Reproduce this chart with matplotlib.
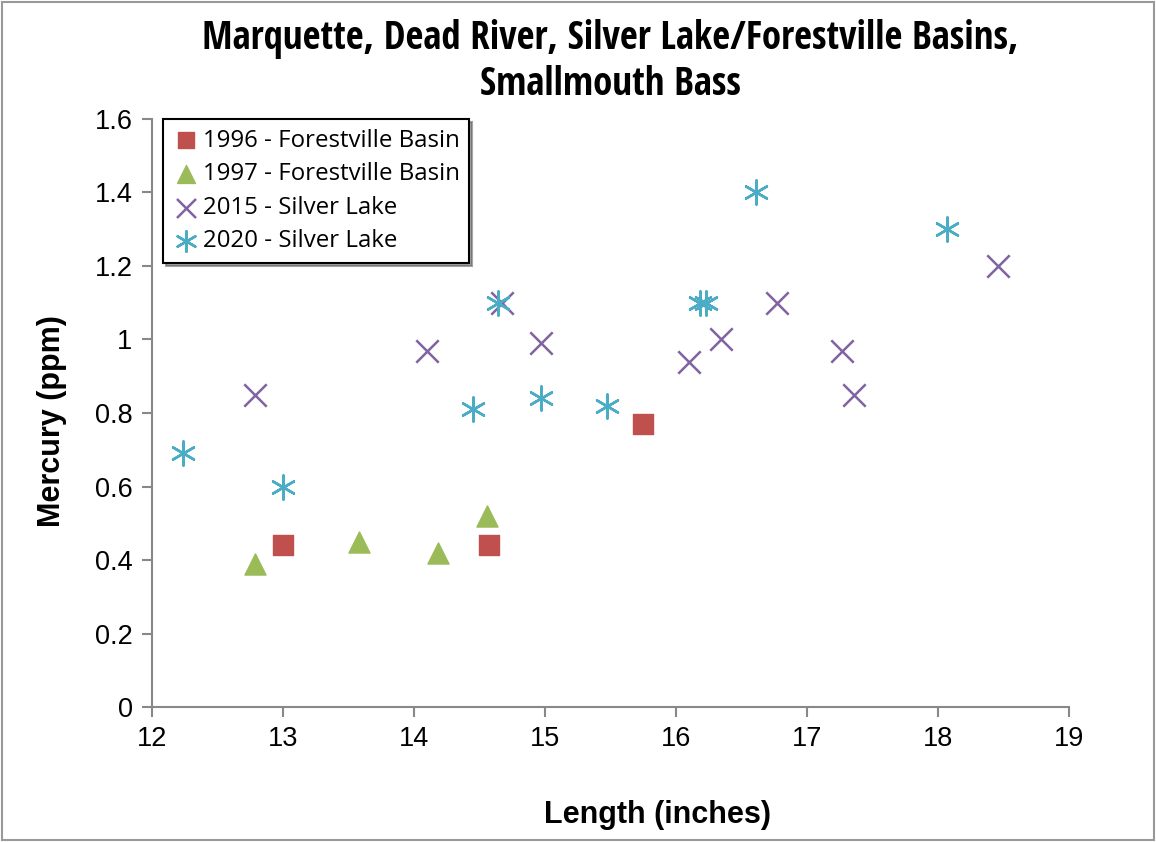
import matplotlib.pyplot as plt
from matplotlib.patches import Rectangle

# smallmouth bass mercury vs length
len_1996 = [13.0, 14.57, 15.75]
hg_1996 = [0.44, 0.44, 0.77]

len_1997 = [12.79, 13.58, 14.18, 14.56]
hg_1997 = [0.39, 0.45, 0.42, 0.52]

len_2015 = [12.79, 14.10, 14.67, 14.97, 16.10, 16.34, 16.77, 17.27, 17.36, 18.46]
hg_2015 = [0.85, 0.97, 1.10, 0.99, 0.94, 1.00, 1.10, 0.97, 0.85, 1.20]

len_2020 = [12.24, 13.0, 14.45, 14.64, 14.97, 15.47, 16.61, 16.18, 16.23, 18.07]
hg_2020 = [0.69, 0.60, 0.81, 1.10, 0.84, 0.82, 1.40, 1.10, 1.10, 1.30]

xticks = [12, 13, 14, 15, 16, 17, 18, 19]
yticks = [0, 0.2, 0.4, 0.6, 0.8, 1.0, 1.2, 1.4, 1.6]
ytick_labels = ["0", "0.2", "0.4", "0.6", "0.8", "1", "1.2", "1.4", "1.6"]

plt.rcParams['font.family'] = ['Liberation Sans', 'DejaVu Sans']

fig = plt.figure(figsize=(11.56, 8.42), dpi=100)
ax = fig.add_axes([0.1315, 0.1603, 0.7932, 0.6984])

ax.scatter(len_1996, hg_1996, marker='s', s=190, color='#c0504d', label='1996 - Forestville Basin', zorder=3)
ax.scatter(len_1997, hg_1997, marker='^', s=230, color='#9bbb59', label='1997 - Forestville Basin', zorder=3)
ax.scatter(len_2015, hg_2015, marker='x', s=260, color='#8064a2', linewidths=1.8, label='2015 - Silver Lake', zorder=3)
ax.scatter(len_2020, hg_2020, marker=(6, 2, 0), s=300, color='#4bacc6', linewidths=1.8, label='2020 - Silver Lake', zorder=3)

ax.set_xlim(12, 19)
ax.set_ylim(0, 1.6)
ax.set_xticks(xticks)
ax.set_yticks(yticks)
ax.set_yticklabels(ytick_labels)
ax.tick_params(labelsize=19.5, color='#888888', length=7, width=1.5, pad=7)
for side in ['top', 'right']:
    ax.spines[side].set_visible(False)
for side in ['left', 'bottom']:
    ax.spines[side].set_color('#888888')
    ax.spines[side].set_linewidth(1.5)

fig.text(0.569, 0.023, 'Length (inches)', fontsize=22, fontweight='bold', ha='center')
fig.text(0.045, 0.5, 'Mercury (ppm)', fontsize=22, fontweight='bold', va='center', ha='center', rotation=90)

fig.text(0.528, 0.926, 'Marquette, Dead River, Silver Lake/Forestville Basins,\nSmallmouth Bass',
         fontsize=28, fontweight='bold', ha='center', va='center', linespacing=1.2,
         family=['Open Sans Condensed', 'Roboto Condensed', 'Liberation Sans Narrow', 'Open Sans'])

leg = ax.legend(loc='upper left', bbox_to_anchor=(0.012, 1.0), borderaxespad=0, frameon=True,
                fancybox=False, shadow=True, handletextpad=0.15, borderpad=0.4,
                labelspacing=0.4, handlelength=1.1, scatterpoints=1, markerscale=0.85,
                prop={'family': ['Open Sans', 'DejaVu Sans'], 'size': 17.3})
leg.get_frame().set_edgecolor('black')
leg.get_frame().set_linewidth(1.5)

fig.patches.append(Rectangle((0.002, 0.002), 0.996, 0.996, transform=fig.transFigure,
                             fill=False, edgecolor='#999999', linewidth=1.5))

fig.savefig('out.png', dpi=100)
